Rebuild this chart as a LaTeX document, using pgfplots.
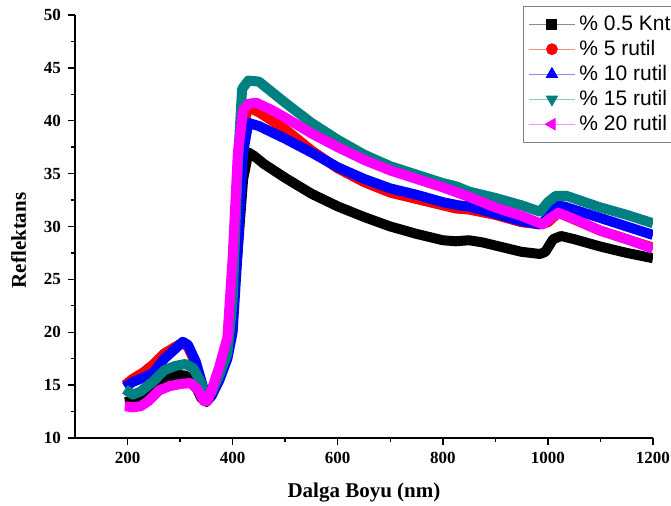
\documentclass[border=0pt]{standalone}
\usepackage{fontspec}
\setmainfont{Liberation Serif}
\newfontfamily\arial{Liberation Sans}
\usepackage{pgfplots}
\pgfplotsset{compat=1.18}
\definecolor{dcyan}{RGB}{0,128,128}
\definecolor{mag}{RGB}{255,0,255}
\begin{document}
\begin{tikzpicture}
\path[use as bounding box] (-37.5pt,-34pt) rectangle (298pt,219pt);
\clip (-37.5pt,-34pt) rectangle (298pt,219pt);
\begin{axis}[
    scale only axis,
    width=289pt, height=211.5pt,
    xmin=100, xmax=1200,
    ymin=10, ymax=50,
    xtick={200,400,...,1200},
    ytick={10,15,...,50},
    minor x tick num=1,
    minor y tick num=1,
    axis x line*=bottom,
    axis y line*=left,
    tick align=outside,
    major tick length=3.5pt,
    minor tick length=2pt,
    tick style={black, line width=0.7pt},
    axis line style={line width=0.8pt},
    /pgf/number format/assume math mode=true,
    /pgf/number format/1000 sep={},
    ticklabel style={font=\bfseries\fontsize{8.5}{10}\selectfont},
    xlabel={Dalga Boyu (nm)},
    ylabel={Reflektans},
    label style={font=\bfseries\fontsize{10.5}{12}\selectfont},
    xlabel style={yshift=-3pt},
    ylabel style={yshift=2pt, xshift=-7pt},
    legend style={at={(axis description cs:0.775,1.021)}, anchor=north west,
        draw=gray, line width=0.5pt, font=\arial\fontsize{10.5}{12}\selectfont,
        row sep=-0.6pt, inner sep=2.5pt},
    legend cell align={left},
    legend image code/.code={
        \draw[#1, line width=0.5pt, opacity=0.45] (0pt,0pt) -- (23pt,0pt);
        \draw[#1, only marks] plot coordinates {(11.5pt,0pt)};
    },
]
\addplot[black, line width=5pt, line join=round, forget plot] coordinates {
(195,13.4) (210,13.5) (230,13.9) (250,14.6) (270,15.5) (290,16.0) (310,15.9) (325,15.4) (340,13.8) (350,13.4) (360,14.0) (375,15.8) (390,18.0) (400,22) (410,28) (420,34.5) (430,37.0) (440,36.7) (460,35.9) (500,34.6) (550,33.1) (600,31.9) (650,30.9) (700,30.0) (750,29.3) (800,28.7) (825,28.6) (850,28.7) (875,28.5) (900,28.2) (925,27.9) (950,27.6) (985,27.4) (995,27.6) (1010,28.8) (1025,29.1) (1050,28.8) (1100,28.1) (1150,27.5) (1200,27.0)
};
\addplot[red, line width=5pt, line join=round, forget plot] coordinates {
(195,15.0) (210,15.6) (230,16.2) (250,17.0) (270,18.0) (290,18.6) (305,19.0) (315,18.6) (330,17.0) (345,14.3) (352,13.6) (360,14.5) (375,16.5) (390,18.3) (400,23) (410,32) (420,39.5) (430,41.3) (450,40.8) (500,39.2) (550,37.2) (600,35.5) (650,34.2) (700,33.2) (750,32.6) (800,32.0) (825,31.7) (850,31.6) (900,31.1) (950,30.4) (985,30.2) (1000,30.4) (1020,31.3) (1100,29.6) (1200,28.0)
};
\addplot[blue, line width=5pt, line join=round, forget plot] coordinates {
(195,14.8) (210,15.3) (230,15.7) (250,16.2) (270,17.5) (290,18.4) (305,19.1) (315,18.8) (330,17.2) (345,14.6) (352,13.7) (360,14.0) (375,15.5) (390,17.5) (400,20) (410,28) (420,37) (430,39.8) (450,39.5) (500,38.3) (550,37.0) (600,35.6) (650,34.5) (700,33.6) (750,33.0) (800,32.3) (830,32.0) (850,31.9) (900,31.2) (950,30.5) (985,30.2) (1000,30.8) (1015,32.0) (1030,31.9) (1100,30.8) (1150,30.0) (1200,29.2)
};
\addplot[dcyan, line width=5pt, line join=round, forget plot] coordinates {
(195,14.6) (210,14.1) (225,14.4) (250,15.4) (270,16.4) (290,16.8) (310,17.0) (325,16.6) (340,15.2) (350,13.8) (360,14.3) (375,16.0) (390,18.0) (400,23) (410,36) (418,43.0) (430,43.8) (450,43.7) (475,42.7) (500,41.7) (550,39.8) (600,38.2) (650,36.8) (700,35.7) (750,34.9) (800,34.1) (825,33.8) (850,33.3) (900,32.7) (950,32.0) (985,31.4) (1000,32.3) (1015,32.9) (1035,32.9) (1100,31.8) (1150,31.1) (1200,30.3)
};
\addplot[mag, line width=5pt, line join=round, forget plot] coordinates {
(195,13.0) (210,12.9) (225,13.0) (240,13.5) (260,14.5) (280,14.9) (300,15.1) (320,15.2) (335,14.5) (345,13.5) (352,13.5) (360,14.5) (375,16.8) (390,19.5) (400,27) (410,37) (420,41.0) (430,41.6) (445,41.7) (475,41.0) (500,40.3) (550,38.8) (600,37.5) (650,36.3) (700,35.3) (750,34.5) (800,33.7) (850,32.8) (900,31.8) (950,31.0) (990,30.2) (1005,30.8) (1020,31.3) (1050,30.7) (1100,29.6) (1150,28.8) (1200,27.9)
};
\addlegendimage{black, mark=square*, mark size=2.5pt}
\addlegendentry{\% 0.5 Knt}
\addlegendimage{red, mark=*, mark size=2.7pt}
\addlegendentry{\% 5 rutil}
\addlegendimage{blue, mark=triangle*, mark size=3.2pt}
\addlegendentry{\% 10 rutil}
\addlegendimage{dcyan, mark=triangle*, mark size=3.2pt, mark options={rotate=180}}
\addlegendentry{\% 15 rutil}
\addlegendimage{mag, mark=triangle*, mark size=3.2pt, mark options={rotate=90}}
\addlegendentry{\% 20 rutil}
\end{axis}
\end{tikzpicture}
\end{document}
